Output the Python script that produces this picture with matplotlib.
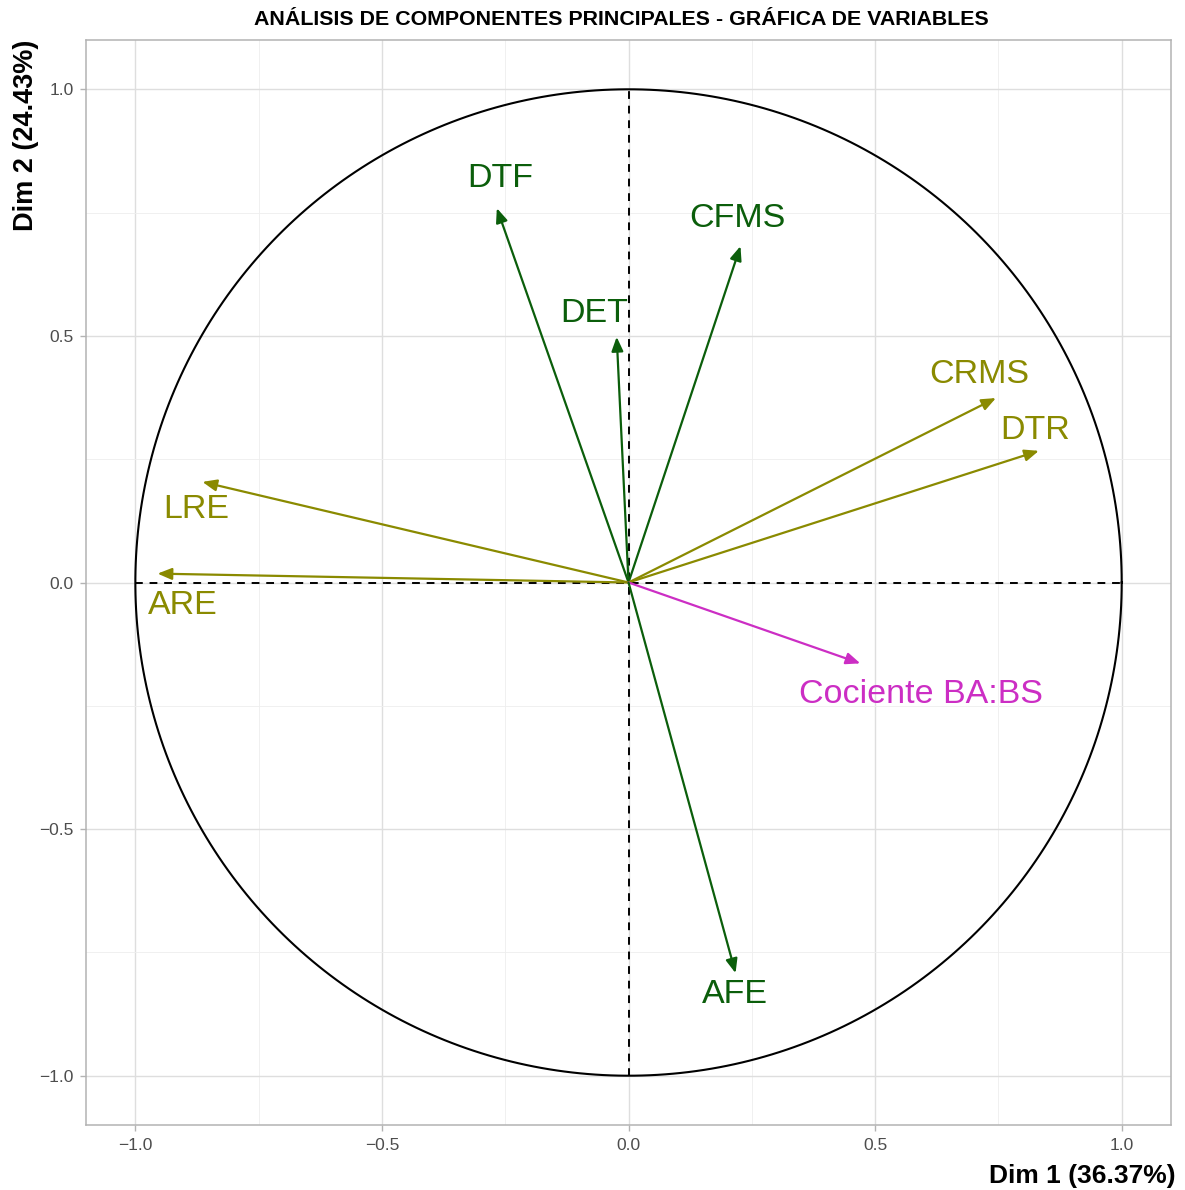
import numpy as np
import matplotlib
matplotlib.use("Agg")
import matplotlib.pyplot as plt
from matplotlib.ticker import MultipleLocator

plt.rcParams['font.family'] = ['Liberation Sans', 'DejaVu Sans']

# Variable coordinates on the first two principal dimensions
variables = ["DTF", "CFMS", "DET", "CRMS", "DTR", "LRE", "ARE", "Cociente BA:BS", "AFE"]
dim1 = [-0.267, 0.227, -0.024, 0.745, 0.832, -0.864, -0.955, 0.470, 0.217]
dim2 = [0.759, 0.682, 0.498, 0.374, 0.267, 0.204, 0.018, -0.164, -0.792]
groups = ["g1", "g1", "g1", "g2", "g2", "g2", "g2", "g3", "g1"]
group_colors = {"g1": "#0B5E0B", "g2": "#8A8A00", "g3": "#CC2EC4"}
# label displacement from arrow tip (pixels)
label_dx = [3, -3, -23, -17, -4, -6, 25, 61, -1]
label_dy = [30, 28, 23, 24, 20, -28, -32, -31, -21]

var_dim1 = 36.37
var_dim2 = 24.43

fig = plt.figure(figsize=(11.85, 11.9), dpi=100)
ax = fig.add_axes([0.0726, 0.0546, 0.9156, 0.9118])

ax.set_xlim(-1.1, 1.1)
ax.set_ylim(-1.1, 1.1)

# grid
ax.xaxis.set_major_locator(MultipleLocator(0.5))
ax.yaxis.set_major_locator(MultipleLocator(0.5))
ax.xaxis.set_minor_locator(MultipleLocator(0.25))
ax.yaxis.set_minor_locator(MultipleLocator(0.25))
ax.grid(which='major', color='#DEDEDE', linewidth=1.0)
ax.grid(which='minor', color='#EEEEEE', linewidth=0.6)
ax.set_axisbelow(True)
for sp in ax.spines.values():
    sp.set_color('#B3B3B3')
    sp.set_linewidth(1.1)
ax.tick_params(which='major', length=4, color='#B3B3B3', labelcolor='#4D4D4D',
               labelsize=12.5, width=1, pad=5)
ax.tick_params(which='minor', length=0)
fmt = lambda v, p: ("%.1f" % v).replace('-', '\u2212')
ax.xaxis.set_major_formatter(plt.FuncFormatter(fmt))
ax.yaxis.set_major_formatter(plt.FuncFormatter(fmt))

# correlation circle and axes through the origin
t = np.linspace(0, 2 * np.pi, 400)
ax.plot(np.cos(t), np.sin(t), color='black', linewidth=1.5, zorder=2)
ax.plot([-1, 1], [0, 0], color='black', linestyle=(0, (4, 3.5)), linewidth=1.4, zorder=2)
ax.plot([0, 0], [-1, 1], color='black', linestyle=(0, (4, 3.5)), linewidth=1.4, zorder=2)

for name, x, y, g, dx, dy in zip(variables, dim1, dim2, groups, label_dx, label_dy):
    c = group_colors[g]
    ax.annotate("", xy=(x, y), xytext=(0, 0),
                arrowprops=dict(arrowstyle='-|>,head_length=0.85,head_width=0.35',
                                color=c, linewidth=1.6, shrinkA=0, shrinkB=0),
                zorder=3)
    ax.annotate(name, xy=(x, y), xytext=(dx, dy), textcoords='offset pixels',
                ha='center', va='center', color=c, fontsize=24.5, zorder=4)

ax.set_title("ANÁLISIS DE COMPONENTES PRINCIPALES - GRÁFICA DE VARIABLES",
             fontsize=15.4, fontweight='bold', pad=10.5, x=0.4935)
ax.set_xlabel("Dim 1 (%.2f%%)" % var_dim1, fontsize=19, fontweight='bold',
              loc='right', labelpad=8)
ax.xaxis.label.set_x(1.004)
ax.set_ylabel("Dim 2 (%.2f%%)" % var_dim2, fontsize=19.5, fontweight='bold',
              loc='top', labelpad=0)

fig.savefig("out.png", dpi=100, facecolor='white')
